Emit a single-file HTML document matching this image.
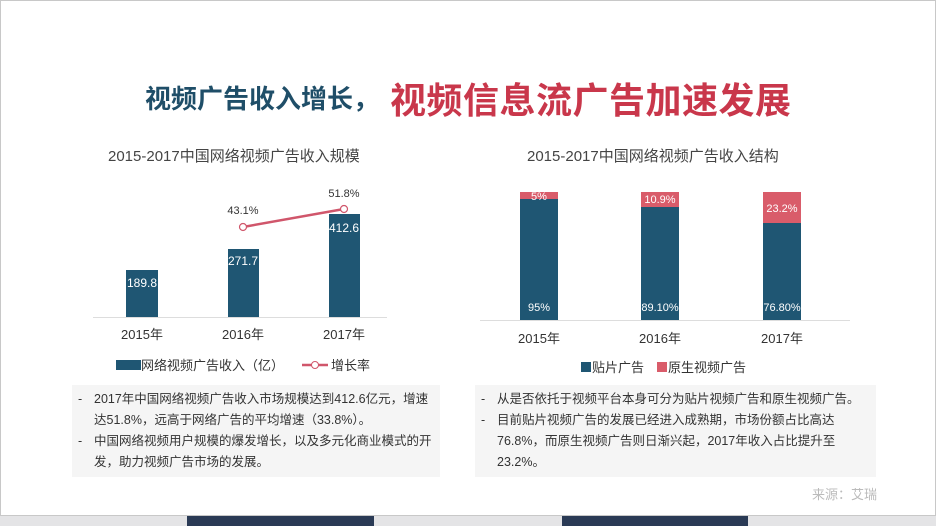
<!DOCTYPE html>
<html><head><meta charset="utf-8"><style>
body{margin:0;width:936px;height:526px;background:#fff;position:relative;overflow:hidden;font-family:"Liberation Sans","Noto Sans CJK SC",sans-serif;}
.abs{position:absolute;white-space:nowrap;}
.box{position:absolute;background:#f5f5f5;font-size:12.5px;color:#333;line-height:21px;}
.box div{position:relative;padding-left:22px;}
.box div span{position:absolute;left:6px;}
</style></head><body>
<div class="abs" style="left:0;top:0;width:934px;height:514px;border:1px solid #c8c8c8;"></div>
<div class="abs" style="left:145px;top:80px;font-size:26px;font-weight:bold;color:#1f4e68;line-height:36px;font-family:'Noto Sans CJK SC',sans-serif;">视频广告收入增长，</div>
<div class="abs" style="left:390px;top:76px;font-size:36px;font-weight:bold;color:#c9374b;line-height:44px;letter-spacing:0.5px;font-family:'Noto Sans CJK SC',sans-serif;">视频信息流广告加速发展</div>
<div class="abs" style="left:108px;top:145px;font-size:15px;color:#444;">2015-2017中国网络视频广告收入规模</div>
<div class="abs" style="left:527px;top:145px;font-size:15px;color:#444;">2015-2017中国网络视频广告收入结构</div>
<svg class="abs" style="left:0;top:0" width="936" height="526" font-family="Liberation Sans, Noto Sans CJK SC, sans-serif">
<line x1="93" y1="317.5" x2="387" y2="317.5" stroke="#ddd"/>
<rect x="126" y="270" width="32" height="47" fill="#1f5673"/>
<rect x="228" y="249" width="31" height="68" fill="#1f5673"/>
<rect x="329" y="214" width="31" height="103" fill="#1f5673"/>
<g fill="#fff" font-size="12" text-anchor="middle">
<text x="142" y="287">189.8</text><text x="243" y="265">271.7</text><text x="344" y="232">412.6</text></g>
<line x1="243" y1="227" x2="344" y2="209" stroke="#d0566b" stroke-width="2.5"/>
<circle cx="243" cy="227" r="3.5" fill="#fff" stroke="#d0566b" stroke-width="1.2"/>
<circle cx="344" cy="209" r="3.5" fill="#fff" stroke="#d0566b" stroke-width="1.2"/>
<g fill="#333" font-size="11" text-anchor="middle"><text x="243" y="214">43.1%</text><text x="344" y="197">51.8%</text></g>
<g fill="#333" font-size="13" text-anchor="middle"><text x="142" y="339">2015年</text><text x="243" y="339">2016年</text><text x="344" y="339">2017年</text></g>
<rect x="116" y="360" width="25" height="10" fill="#1f5673"/>
<text x="141" y="370" font-size="13" fill="#333">网络视频广告收入（亿）</text>
<line x1="302" y1="365" x2="328" y2="365" stroke="#d0566b" stroke-width="2.5"/>
<circle cx="315" cy="365" r="3.5" fill="#fff" stroke="#d0566b"/>
<text x="331" y="370" font-size="13" fill="#333">增长率</text>

<line x1="480" y1="320.5" x2="850" y2="320.5" stroke="#ddd"/>
<rect x="520" y="192" width="38" height="7" fill="#d95c6a"/><rect x="520" y="199" width="38" height="121" fill="#1f5673"/>
<rect x="641" y="192" width="38" height="15" fill="#d95c6a"/><rect x="641" y="207" width="38" height="113" fill="#1f5673"/>
<rect x="763" y="192" width="38" height="31" fill="#d95c6a"/><rect x="763" y="223" width="38" height="97" fill="#1f5673"/>
<g fill="#fff" font-size="11" text-anchor="middle">
<text x="539" y="200">5%</text><text x="660" y="203">10.9%</text><text x="782" y="212">23.2%</text>
<text x="539" y="311">95%</text><text x="660" y="311">89.10%</text><text x="782" y="311">76.80%</text></g>
<g fill="#333" font-size="13" text-anchor="middle"><text x="539" y="343">2015年</text><text x="660" y="343">2016年</text><text x="782" y="343">2017年</text></g>
<rect x="581" y="362" width="10" height="10" fill="#1f5673"/>
<text x="592" y="372" font-size="13" fill="#333">贴片广告</text>
<rect x="657" y="362" width="10" height="10" fill="#d95c6a"/>
<text x="668" y="372" font-size="13" fill="#333">原生视频广告</text>
</svg>
<div class="box" style="left:72px;top:385px;width:368px;height:92px;padding-top:4px;box-sizing:border-box;">
<div><span>-</span>2017年中国网络视频广告收入市场规模达到412.6亿元，增速达51.8%，远高于网络广告的平均增速（33.8%）。</div>
<div><span>-</span>中国网络视频用户规模的爆发增长，以及多元化商业模式的开发，助力视频广告市场的发展。</div>
</div>
<div class="box" style="left:475px;top:385px;width:401px;height:92px;padding-top:4px;box-sizing:border-box;">
<div><span>-</span>从是否依托于视频平台本身可分为贴片视频广告和原生视频广告。</div>
<div><span>-</span>目前贴片视频广告的发展已经进入成熟期，市场份额占比高达76.8%，而原生视频广告则日渐兴起，2017年收入占比提升至23.2%。</div>
</div>
<div class="abs" style="left:812px;top:484px;font-size:13px;color:#bbb;">来源：艾瑞</div>
<div class="abs" style="left:0;top:516px;width:936px;height:10px;background:#e4e4e6;"></div>
<div class="abs" style="left:187px;top:516px;width:187px;height:10px;background:#2a3a55;"></div>
<div class="abs" style="left:562px;top:516px;width:186px;height:10px;background:#2a3a55;"></div>
</body></html>
